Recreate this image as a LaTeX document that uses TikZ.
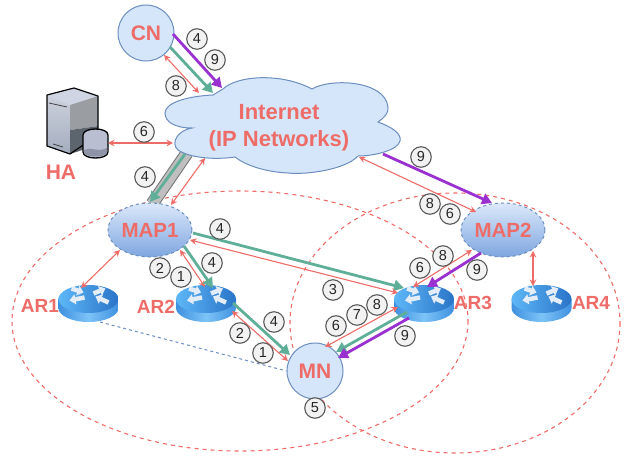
\documentclass[tikz,border=0pt]{standalone}
\usepackage{fontspec}
\setmainfont{Liberation Sans}
\usetikzlibrary{arrows.meta,shapes.geometric,backgrounds}
\definecolor{rd}{HTML}{EE6C68}
\definecolor{grn}{HTML}{5FAE98}
\definecolor{prp}{HTML}{9B30D0}
\definecolor{edgeblue}{HTML}{6C8EBF}
\definecolor{paleblue}{HTML}{D6E6FA}
\definecolor{maptop}{HTML}{DCE8FA}
\definecolor{mapbot}{HTML}{7EA6E0}
\definecolor{rtA}{HTML}{5DB7F7}
\definecolor{rtB}{HTML}{2A74C8}
\definecolor{rtC}{HTML}{7CC3F7}
\definecolor{rtD}{HTML}{3F90E0}
\definecolor{rtW}{HTML}{E4EDF7}
\definecolor{svTop}{HTML}{CFD5E3}
\definecolor{svLeftA}{HTML}{CDD1DC}
\definecolor{svLeftB}{HTML}{A3ADBF}
\definecolor{svRightA}{HTML}{9A9EA3}
\definecolor{svRightB}{HTML}{5C656D}
\definecolor{svCyl}{HTML}{B9BED0}
\definecolor{svWave}{HTML}{8E94A8}
\tikzset{
  host/.style={circle,draw=edgeblue,line width=1pt,fill=paleblue,minimum size=56,inner sep=0,text=rd,font=\bfseries\fontsize{21}{25}\selectfont},
  mapnode/.style={ellipse,draw=edgeblue,dashed,line width=1pt,top color=maptop,bottom color=mapbot,minimum width=84,minimum height=54,inner sep=0,text=rd,font=\bfseries\fontsize{20.5}{25}\selectfont},
  routerbox/.style={minimum width=60,minimum height=37,inner sep=0},
  name label/.style={text=rd,inner sep=0,font=\bfseries\fontsize{19}{23}\selectfont},
  num/.style={circle,draw=black!65,line width=1.1pt,fill=black!5,minimum size=20.5,inner sep=0,font=\fontsize{14.5}{16}\selectfont,text=black!85},
  thinarrow/.style={rd,line width=1.1pt,{Stealth[length=6.5pt,width=6.5pt]}-{Stealth[length=6.5pt,width=6.5pt]}},
  greenarrow/.style={grn,line width=2.8pt,-{Triangle[length=10pt,width=11pt]}},
  purplearrow/.style={prp,line width=2.8pt,-{Triangle[length=10pt,width=11pt]}},
  arealine/.style={rd,line width=1.1pt,dash pattern=on 4pt off 4pt},
  routerarrow/.style={rtW,line width=4.5pt,-{Triangle[length=6pt,width=10pt]}},
  router/.pic={
    \shade[left color=rtD,right color=rtD,middle color=rtC]
      (-30,-4.5) -- (-30,4.5) .. controls (-30,12.2) and (-16.6,18.5) .. (0,18.5)
      .. controls (16.6,18.5) and (30,12.2) .. (30,4.5) -- (30,-4.5) -- cycle;
    \shade[left color=rtA,right color=rtB] (0,-4.5) ellipse [x radius=30,y radius=14];
    \draw[routerarrow] (-17,-15) -- (-5,-11);
    \draw[routerarrow] (-4,-6) -- (-19,-3);
    \draw[routerarrow] (5,-10) -- (17,-15);
    \draw[routerarrow] (20,-1) -- (7,-7);
  }
}
\begin{document}
\begin{tikzpicture}[x=1pt,y=-1pt]
\useasboundingbox (0,0) rectangle (635,460);
% cloud
\draw[edgeblue,line width=1pt,fill=paleblue]
  (223,89) .. controls (236,76) and (280,72) .. (312,89)
  .. controls (330,78) and (385,80) .. (388,107)
  .. controls (389,113) and (384,118) .. (378,122)
  .. controls (392,127) and (402,134) .. (400,141)
  .. controls (398,150) and (375,156) .. (358,156)
  .. controls (345,170) and (305,175) .. (288,173)
  .. controls (265,172) and (245,165) .. (235,157)
  .. controls (215,160) and (190,158) .. (178,150)
  .. controls (170,143) and (178,130) .. (192,128)
  .. controls (175,128) and (165,122) .. (165,113)
  .. controls (165,102) and (190,96) .. (213,95)
  -- cycle;
\node[text=rd,inner sep=0,align=center,font=\bfseries\fontsize{22}{27}\selectfont] (cloud) at (279,127.5) {Internet\\(IP Networks)};
% server
\fill[svTop] (47,95) -- (74,88) -- (98,96) -- (70,105) -- cycle;
\shade[top color=svLeftA,bottom color=svLeftB] (47,95) -- (70,105) -- (70,154) -- (47,146) -- cycle;
\fill[svRightA] (70,105) -- (98,96) -- (98,126) -- (70,130) -- cycle;
\fill[svRightB] (70,130) -- (98,126) -- (98,145) -- (70,154) -- cycle;
\draw[black,line width=1.2pt,line join=round] (47,95) -- (74,88) -- (98,96) -- (98,135) -- (70,154) -- (47,146) -- cycle;
\draw[black!75,line width=0.8pt] (49,103) -- (67,107) (53,144) -- (63,147);
\draw[black,line width=1.3pt,fill=svCyl] (83,135) -- (83,152) .. controls (83,160) and (108,160) .. (108,152) -- (108,135) .. controls (108,127) and (83,127) .. (83,135) -- cycle;
\fill[svWave] (84,150) .. controls (90,146) and (98,153) .. (107,148) -- (107,152) .. controls (107,158) and (84,158) .. (84,152) -- cycle;
\node[inner sep=0,minimum width=61,minimum height=70] (ha) at (77.5,123) {};
\node[text=rd,inner sep=0,font=\bfseries\fontsize{21}{25}\selectfont] (halabel) at (61,172) {HA};
% nodes
\node[host] (cn) at (146,33) {CN};
\node[host] (mn) at (315,371) {MN};
\node[mapnode] (map1) at (150,230) {MAP1};
\node[mapnode] (map2) at (503,230) {MAP2};
\pic at (88.5,303.5) {router};
\pic at (206,303.5) {router};
\pic at (424,303.5) {router};
\pic at (541.5,303.5) {router};
\node[routerbox] (ar1) at (88.5,303.5) {};
\node[routerbox] (ar2) at (206,303.5) {};
\node[routerbox] (ar3) at (424,303.5) {};
\node[routerbox] (ar4) at (541.5,303.5) {};
\node[name label] (ar1label) at (40,306) {AR1};
\node[name label] (ar2label) at (156,307) {AR2};
\node[name label] (ar3label) at (473,303) {AR3};
\node[name label] (ar4label) at (591,303) {AR4};
% background elements
\begin{pgfonlayer}{background}
\draw[arealine] (240,321) ellipse [x radius=228,y radius=130];
\draw[arealine] (455,323) ellipse [x radius=165,y radius=130];
\draw[black!55,line width=13pt] ([shift={(-92,25.5)}]cloud.center) -- ([shift={(2,-26)}]map1.center);
\draw[black!25,line width=11pt] ([shift={(-92,25.5)}]cloud.center) -- ([shift={(2,-26)}]map1.center);
\draw[edgeblue,dashed,line width=1pt] ([shift={(11.5,18.5)}]ar1.center) -- (mn.west);
\end{pgfonlayer}
% connectors
\draw[purplearrow] ([shift={(27,1)}]cn.center) -- ([shift={(-57,-39.5)}]cloud.center);
\draw[greenarrow] ([shift={(24,14)}]cn.center) -- ([shift={(-66,-34.5)}]cloud.center);
\draw[thinarrow] ([shift={(18,22)}]cn.center) -- ([shift={(-80,-34.5)}]cloud.center);
\draw[thinarrow] ([shift={(30.5,20)}]ha.center) -- ([shift={(-106,15.5)}]cloud.center);
\draw[greenarrow] ([shift={(-94,26.5)}]cloud.center) -- ([shift={(0,-28)}]map1.center);
\draw[thinarrow] ([shift={(-74,30.5)}]cloud.center) -- ([shift={(21,-25)}]map1.center);
\draw[thinarrow] ([shift={(-30,20)}]map1.center) -- ([shift={(-7.5,-15.5)}]ar1.center);
\draw[thinarrow] ([shift={(30,20)}]map1.center) -- ([shift={(-1,-16.5)}]ar2.center);
\draw[greenarrow] ([shift={(34,16)}]map1.center) -- ([shift={(7,-15.5)}]ar2.center);
\draw[greenarrow] ([shift={(43,3)}]map1.center) -- ([shift={(-20,-15.5)}]ar3.center);
\draw[thinarrow] ([shift={(40,10)}]map1.center) -- ([shift={(-26,-10.5)}]ar3.center);
\draw[greenarrow] ([shift={(27,-0.5)}]ar2.center) -- ([shift={(-25,-16)}]mn.center);
\draw[thinarrow] ([shift={(26,7.5)}]ar2.center) -- ([shift={(-27,-10)}]mn.center);
\draw[thinarrow] ([shift={(-26,3.5)}]ar3.center) -- ([shift={(10,-24)}]mn.center);
\draw[greenarrow] ([shift={(-17,8.5)}]ar3.center) -- ([shift={(21,-19)}]mn.center);
\draw[purplearrow] ([shift={(-15,14.5)}]ar3.center) -- ([shift={(23,-13)}]mn.center);
\draw[purplearrow] ([shift={(-22,23)}]map2.center) -- ([shift={(3,-16.5)}]ar3.center);
\draw[thinarrow] ([shift={(-31,20)}]map2.center) -- ([shift={(-11,-16.5)}]ar3.center);
\draw[purplearrow] ([shift={(104,26.5)}]cloud.center) -- ([shift={(-11,-27)}]map2.center);
\draw[thinarrow] ([shift={(80,29.5)}]cloud.center) -- ([shift={(-27,-18)}]map2.center);
\draw[thinarrow,line width=1.8pt] ([shift={(30,21)}]map2.center) -- ([shift={(-8.5,-17.5)}]ar4.center);
% step numbers
\node[num] (n1) at (197,39) {4};
\node[num] (n2) at (215,60) {9};
\node[num] (n3) at (176,86) {8};
\node[num] (n4) at (144,132) {6};
\node[num] (n5) at (145,177) {4};
\node[num] (n6) at (220,229) {4};
\node[num] (n7) at (160,268) {2};
\node[num] (n8) at (181,277) {1};
\node[num] (n9) at (212,263) {4};
\node[num] (n10) at (333,290) {3};
\node[num] (n11) at (274,322) {4};
\node[num] (n12) at (240,333) {2};
\node[num] (n13) at (263,353) {1};
\node[num] (n14) at (336,326) {6};
\node[num] (n15) at (357,315) {7};
\node[num] (n16) at (377,305) {8};
\node[num] (n17) at (405,336) {9};
\node[num] (n18) at (420,268) {6};
\node[num] (n19) at (443,256) {8};
\node[num] (n20) at (477,270) {9};
\node[num] (n21) at (421,157) {9};
\node[num] (n22) at (430,204) {8};
\node[num] (n23) at (450,214) {6};
\node[num] (n24) at (315,408) {5};
\end{tikzpicture}
\end{document}
